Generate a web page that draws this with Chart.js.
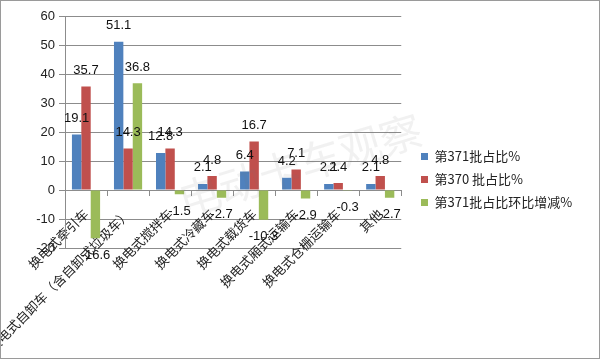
<!DOCTYPE html>
<html>
<head>
<meta charset="utf-8">
<script src="https://cdn.jsdelivr.net/npm/chart.js@4.4.1/dist/chart.umd.min.js"></script>
<style>
  html, body { margin: 0; padding: 0; background: #fff; }
</style>
</head>
<body>
<canvas id="shareChart" width="600" height="359"></canvas>
<script>
// categories and series values
const categories = ['换电式牵引车', '换电式自卸车（含自卸式垃圾车）', '换电式搅拌车', '换电式冷藏车',
  '换电式载货车', '换电式厢式运输车', '换电式仓栅运输车', '其他'];
const batch371 = [19.1, 51.1, 12.8, 2.1, 6.4, 4.2, 2.1, 2.1];
const batch370 = [35.7, 14.3, 14.3, 4.8, 16.7, 7.1, 2.4, 4.8];
const batchChange = [-16.6, 36.8, -1.5, -2.7, -10.3, -2.9, -0.3, -2.7];
const yMin = -20, yMax = 60, yStep = 10;

const gridGray = '#8c8c8c';

// value labels above (or below) each bar
const valueLabels = {
  id: 'valueLabels',
  afterDatasetsDraw(chart) {
    const ctx = chart.ctx;
    ctx.save();
    ctx.font = '13px "Liberation Sans"';
    ctx.fillStyle = '#111';
    ctx.textAlign = 'center';
    ctx.textBaseline = 'middle';
    chart.data.datasets.forEach((ds, i) => {
      chart.getDatasetMeta(i).data.forEach((bar, j) => {
        const v = ds.data[j];
        const y = v >= 0 ? bar.y - 16 : bar.y + 17;
        ctx.fillText(v.toFixed(1), bar.x, y);
      });
    });
    ctx.restore();
  }
};

// white background, faint watermark and outer frame
const frame = {
  id: 'frame',
  beforeDraw(chart) {
    const ctx = chart.ctx;
    ctx.save();
    ctx.fillStyle = '#fff';
    ctx.fillRect(0, 0, chart.width, chart.height);
    ctx.restore();
  },
  afterDraw(chart) {
    const ctx = chart.ctx;
    ctx.save();
    ctx.translate(300, 165);
    ctx.rotate(-17 * Math.PI / 180);
    ctx.font = '42px "Noto Sans CJK SC"';
    ctx.fillStyle = 'rgba(120,120,120,0.10)';
    ctx.textAlign = 'center';
    ctx.textBaseline = 'middle';
    ctx.fillText('电动卡车观察', 0, 0);
    ctx.restore();
    ctx.save();
    ctx.strokeStyle = '#9a9a9a';
    ctx.lineWidth = 1;
    ctx.strokeRect(0.5, 0.5, chart.width - 1, chart.height - 1);
    ctx.restore();
  },
  afterLayout(chart) {
    // legend box sits a bit right of the plot and is centred on the whole canvas
    const lg = chart.legend;
    if (lg) {
      lg.left = 411;
      lg.width = chart.width - lg.left;
      lg.maxWidth = lg.width;
      lg.right = chart.width;
      lg.top = 0;
      lg.bottom = chart.height;
      lg.height = chart.height;
    }
  }
};

new Chart(document.getElementById('shareChart').getContext('2d'), {
  type: 'bar',
  data: {
    labels: categories,
    datasets: [
      {
        label: '第371批占比%',
        data: batch371,
        backgroundColor: '#4F81BD',
        borderWidth: 0
      },
      {
        label: '第370 批占比%',
        data: batch370,
        backgroundColor: '#C0504D',
        borderWidth: 0
      },
      {
        label: '第371批占比环比增减%',
        data: batchChange,
        backgroundColor: '#9BBB59',
        borderWidth: 0
      }
    ]
  },
  options: {
    responsive: false,
    animation: false,
    events: [],
    categoryPercentage: 0.67,
    barPercentage: 1.0,
    layout: {
      padding: { top: 16, right: 65, bottom: 111, left: 0 }
    },
    plugins: {
      legend: {
        position: 'right',
        labels: {
          boxWidth: 7,
          boxHeight: 7,
          padding: 10,
          color: '#222',
          font: { family: '"Noto Sans CJK SC"', size: 13 }
        }
      },
      tooltip: { enabled: false }
    },
    scales: {
      x: {
        position: { y: 0 },
        offset: true,
        grid: {
          offset: true,
          drawOnChartArea: false,
          drawTicks: true,
          tickLength: 5,
          color: gridGray
        },
        border: { color: gridGray },
        ticks: {
          autoSkip: false,
          minRotation: 45,
          maxRotation: 45,
          padding: 11,
          color: '#222',
          font: { family: '"Noto Sans CJK SC"', size: 13 }
        }
      },
      y: {
        min: yMin,
        max: yMax,
        ticks: {
          stepSize: yStep,
          padding: 4,
          color: '#222',
          font: { family: '"Liberation Sans"', size: 13 }
        },
        grid: { color: gridGray, tickLength: 6 },
        border: { color: gridGray },
        afterFit: (scale) => { scale.width = 65; }
      }
    }
  },
  plugins: [valueLabels, frame]
});
</script>
</body>
</html>
